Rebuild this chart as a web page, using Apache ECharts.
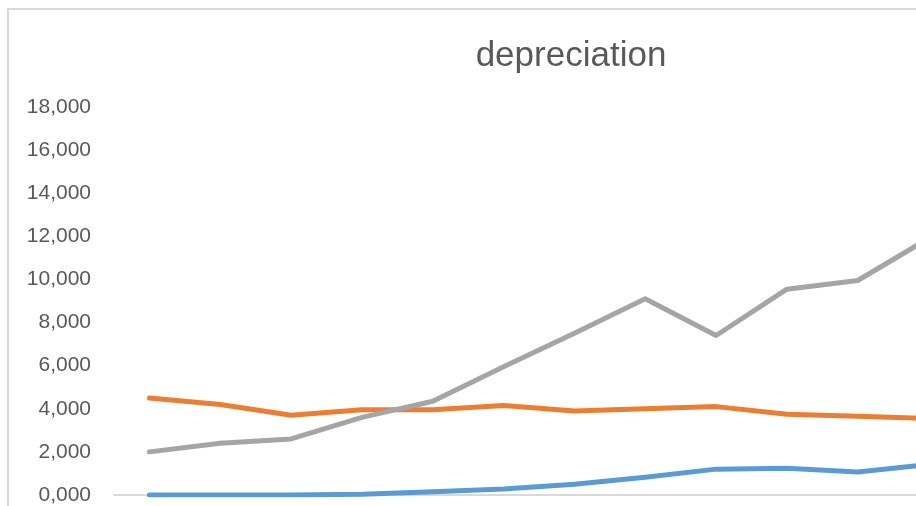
<!DOCTYPE html>
<html>
<head>
<meta charset="utf-8">
<script src="https://cdn.jsdelivr.net/npm/echarts@6/dist/echarts.min.js"></script>
<style>
  html, body { margin: 0; padding: 0; background: #fff; overflow: hidden; }
  /* wider than the window: the last point runs off the right edge, as in the source */
  #chart { width: 980px; height: 506px; }
</style>
</head>
<body>
<div id="chart"></div>
<script>
// values (last category sits just past the right edge)
const categories = ['1', '2', '3', '4', '5', '6', '7', '8', '9', '10', '11', '12'];
const seriesBlue = [0, 0, 0, 30, 150, 280, 500, 820, 1200, 1240, 1070, 1420];
const seriesOrange = [4500, 4200, 3700, 3950, 3950, 4150, 3900, 4000, 4100, 3750, 3650, 3550];
const seriesGray = [2000, 2400, 2600, 3600, 4350, 5950, 7500, 9100, 7400, 9550, 9950, 11900];
const yTicks = { min: 0, max: 18000, interval: 2000 };

const fmt = v => Math.floor(v / 1000) + ',' + String(v % 1000).padStart(3, '0');

const chart = echarts.init(document.getElementById('chart'));

const lineOf = (name, data, color) => ({
  name, type: 'line', data,
  showSymbol: false, symbol: 'none',
  lineStyle: { color, width: 5, cap: 'round', join: 'round' },
  itemStyle: { color },
  animation: false,
});

chart.setOption({
  animation: false,
  textStyle: { fontFamily: 'Liberation Sans' },
  title: {
    text: 'depreciation', left: 566, top: 34, textAlign: 'center',
    textStyle: { fontSize: 35, fontWeight: 'normal', color: '#595959', fontFamily: 'Liberation Sans' },
  },
  graphic: [{
    type: 'rect', silent: true,
    shape: { x: 8, y: 9, width: 1100, height: 600 },
    style: { fill: 'none', stroke: '#d9d9d9', lineWidth: 2 },
  }],
  grid: { left: 114, top: 107, width: 850, height: 388, containLabel: false },
  xAxis: {
    type: 'category', data: categories, boundaryGap: true,
    axisLine: { lineStyle: { color: '#d9d9d9', width: 2 } },
    axisTick: { show: false },
    axisLabel: { show: false },
  },
  yAxis: {
    type: 'value', min: yTicks.min, max: yTicks.max, interval: yTicks.interval,
    axisLine: { show: false },
    axisTick: { show: false },
    splitLine: { show: false },
    axisLabel: { formatter: fmt, fontSize: 21, color: '#595959', margin: 23, fontFamily: 'Liberation Sans' },
  },
  series: [
    lineOf('blue', seriesBlue, '#5b9bd5'),
    lineOf('orange', seriesOrange, '#ed7d31'),
    lineOf('gray', seriesGray, '#a5a5a5'),
  ],
});
</script>
</body>
</html>
